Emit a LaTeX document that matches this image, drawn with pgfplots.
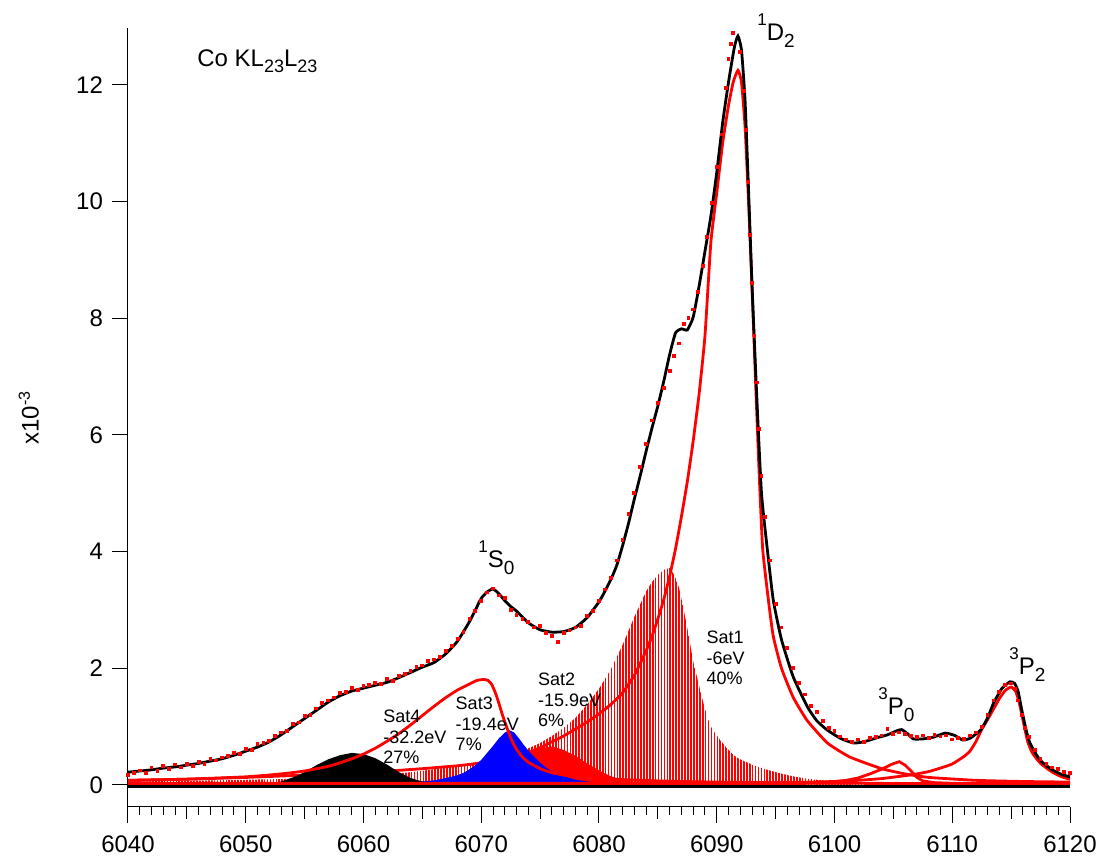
\documentclass[border=0pt]{standalone}
\usepackage{fontspec}
\setmainfont{Liberation Sans}
\usepackage{pgfplots}
\pgfplotsset{compat=1.18}
\usetikzlibrary{patterns.meta}
\newcommand{\psup}[1]{\raisebox{7.5pt}{\fontsize{8.5}{10}\selectfont #1}}
\newcommand{\psub}[1]{\raisebox{-3.5pt}{\fontsize{9.5}{10}\selectfont #1}}
\newcommand{\lsub}[1]{\raisebox{-3pt}{\fontsize{9}{10}\selectfont #1}}
\begin{document}
\begin{tikzpicture}
\path[use as bounding box] (-64pt,-27pt) rectangle (486pt,403.5pt);
\begin{axis}[
 at={(0pt,0pt)}, anchor=south west,
 scale only axis, width=471pt, height=389.5pt,
 xmin=6040, xmax=6120, ymin=-0.377, ymax=12.977,
 axis x line*=bottom, axis y line*=left,
 axis line style={line width=0.5pt, black},
 xtick={6040,6050,...,6120}, ytick={0,2,...,12},
 minor x tick num=9, minor y tick num=0,
 tick align=outside, major tick length=8pt, minor tick length=4pt,
 every tick/.style={black, line width=0.5pt},
 extra x ticks={6045,6055,...,6115}, extra x tick labels={},
 extra x tick style={major tick length=6pt},
 xticklabel style={yshift=-3pt}, yticklabel style={xshift=-1pt},
 tick label style={font=\fontsize{12}{14}\selectfont},
 /pgf/number format/assume math mode=true,
 /pgf/number format/1000 sep={},
 ylabel={x10\textsuperscript{-3}},
 ylabel style={at={(axis description cs:-0.1054,0.5)}, anchor=center, font=\fontsize{12}{14}\selectfont},
 clip=false,
]
% Sat1 (hatched)
\addplot[draw=none, pattern={Lines[angle=90,distance=1.47pt,line width=0.85pt]}, pattern color=red] coordinates {
(6040,0.06) (6045,0.07) (6050,0.09) (6055,0.11) (6058,0.13) (6060,0.15) (6062,0.18) (6064,0.22) (6066,0.27) (6068,0.33) (6070,0.4) (6072,0.5) (6073,0.56) (6074,0.63) (6075,0.72) (6076,0.84) (6077,0.98) (6078,1.15) (6079,1.38) (6080,1.65) (6081,1.98) (6082,2.4) (6083,2.88) (6084,3.32) (6084.5,3.48) (6085,3.6) (6085.5,3.69) (6086,3.72) (6086.4,3.6) (6086.8,3.38) (6087.2,3.0) (6087.6,2.58) (6088,2.12) (6088.5,1.7) (6089,1.3) (6089.5,1.0) (6090,0.85) (6090.5,0.72) (6091,0.6) (6091.5,0.5) (6092,0.44) (6093,0.35) (6094,0.28) (6095,0.22) (6096,0.17) (6097,0.13) (6098,0.1) (6100,0.06) (6102,0.04) (6105,0.03) (6110,0.02)
} \closedcycle;
% Sat2
\addplot[draw=none, fill=red] coordinates {
(6064,0) (6066,0.03) (6068,0.07) (6070,0.16) (6071,0.24) (6072,0.34) (6073,0.45) (6074,0.56) (6075,0.63) (6076,0.66) (6077,0.6) (6078,0.5) (6079,0.37) (6080,0.25) (6081,0.15) (6082,0.09) (6083,0.05) (6084,0.03) (6086,0.01) (6088,0)
} \closedcycle;
% 1D2
\addplot[red, line width=1.4pt, smooth, tension=0.3] coordinates {
(6040,0.08) (6045,0.1) (6050,0.13) (6055,0.17) (6060,0.21) (6065,0.28) (6068,0.33) (6070,0.38) (6072,0.45) (6074,0.56) (6075,0.64) (6076,0.74) (6077,0.84) (6078,0.96) (6079,1.08) (6080,1.22) (6081,1.38) (6082,1.58) (6083,1.88) (6084,2.3) (6084.5,2.55) (6085,2.85) (6085.5,3.18) (6086,3.58) (6086.5,4.05) (6087,4.6) (6087.5,5.2) (6088,5.9) (6088.5,6.7) (6089,7.7) (6089.5,9.3) (6090,10.15) (6090.5,11.0) (6091,11.65) (6091.4,12.05) (6091.8,12.25) (6092.1,12.05) (6092.4,11.3) (6092.7,10.0) (6093,8.5) (6093.3,6.9) (6093.6,5.35) (6093.9,4.05) (6094.4,3.15) (6094.8,2.55) (6095.5,2.0) (6096.5,1.5) (6097.7,1.1) (6099.4,0.72) (6101.3,0.48) (6104,0.28) (6106,0.19) (6108,0.13) (6112,0.08) (6116,0.06) (6120,0.05)
};
% Sat3
\addplot[draw=none, fill=blue] coordinates {
(6055,0) (6060,0.01) (6063,0.03) (6065,0.06) (6066,0.08) (6067,0.12) (6068,0.17) (6068.5,0.21) (6069,0.27) (6069.5,0.34) (6070,0.43) (6070.5,0.55) (6071,0.67) (6071.5,0.8) (6072,0.9) (6072.4,0.94) (6072.8,0.9) (6073.2,0.8) (6073.6,0.69) (6074,0.59) (6074.5,0.48) (6075,0.38) (6075.5,0.3) (6076,0.23) (6077,0.15) (6078,0.09) (6079,0.06) (6080,0.04) (6082,0.02) (6085,0.01) (6090,0)
} \closedcycle;
% Sat4
\addplot[draw=none, fill=black] coordinates {
(6048,0) (6050,0.01) (6052,0.03) (6053,0.06) (6054,0.13) (6055,0.22) (6056,0.34) (6057,0.44) (6058,0.51) (6059,0.55) (6060,0.53) (6061,0.46) (6062,0.35) (6063,0.22) (6064,0.12) (6065,0.06) (6066,0.03) (6068,0.01) (6070,0)
} \closedcycle;
% 1S0
\addplot[red, line width=1.4pt, smooth, tension=0.3] coordinates {
(6040,0.08) (6045,0.1) (6050,0.14) (6053,0.19) (6055,0.24) (6057,0.32) (6058,0.38) (6059,0.45) (6060,0.53) (6061,0.63) (6062,0.75) (6063,0.88) (6064,1.03) (6065,1.19) (6066,1.35) (6067,1.5) (6068,1.63) (6069,1.73) (6069.6,1.79) (6070.2,1.81) (6070.6,1.79) (6070.9,1.72) (6071.2,1.58) (6071.5,1.4) (6071.8,1.2) (6072.2,0.97) (6072.6,0.76) (6073,0.61) (6073.5,0.48) (6074,0.39) (6075,0.28) (6076,0.21) (6077,0.17) (6078,0.14) (6080,0.11) (6085,0.07) (6090,0.05) (6100,0.03) (6120,0.02)
};
% 3P0
\addplot[red, line width=1.4pt] coordinates {
(6040,0.02) (6095,0.02) (6098,0.03) (6100,0.06) (6101,0.08) (6102,0.12) (6103,0.19) (6104,0.27) (6104.8,0.35) (6105.5,0.40) (6106,0.34) (6106.5,0.24) (6107,0.13) (6107.5,0.07) (6108.5,0.04) (6110,0.03) (6120,0.02)
};
% 3P2
\addplot[red, line width=1.4pt, smooth, tension=0.3] coordinates {
(6040,0.03) (6080,0.03) (6095,0.04) (6100,0.06) (6102,0.08) (6104,0.11) (6106,0.16) (6107,0.19) (6108,0.23) (6109,0.29) (6110,0.36) (6111,0.49) (6111.5,0.58) (6112,0.74) (6112.5,0.95) (6113,1.12) (6113.5,1.3) (6114,1.48) (6114.5,1.62) (6115,1.68) (6115.4,1.6) (6115.7,1.4) (6116,1.12) (6116.4,0.75) (6116.8,0.55) (6117.5,0.37) (6118.5,0.22) (6119.3,0.14) (6120,0.1)
};
% baseline
\addplot[black, line width=1.5pt] coordinates {(6040,-0.02) (6120,-0.02)};
% total fit
\addplot[black, line width=1.4pt, smooth, tension=0.3] coordinates {
(6040,0.22) (6041,0.24) (6042,0.26) (6043,0.29) (6044,0.31) (6045,0.34) (6046,0.37) (6047,0.41) (6048,0.45) (6049,0.51) (6050,0.58) (6051,0.65) (6052,0.74) (6053,0.86) (6054,1.0) (6055,1.14) (6056,1.28) (6057,1.42) (6058,1.53) (6059,1.61) (6060,1.66) (6061,1.71) (6062,1.76) (6063,1.84) (6064,1.93) (6065,2.02) (6066,2.1) (6067,2.25) (6068,2.47) (6069,2.8) (6069.5,3.0) (6070,3.2) (6070.5,3.31) (6071,3.36) (6071.5,3.28) (6072,3.16) (6072.5,3.06) (6073,2.98) (6074,2.78) (6075,2.66) (6076,2.62) (6077,2.63) (6078,2.7) (6079,2.87) (6080,3.14) (6080.5,3.32) (6081,3.52) (6081.5,3.76) (6082,4.1) (6082.5,4.48) (6083,4.9) (6083.5,5.3) (6084,5.72) (6084.5,6.12) (6085,6.5) (6085.5,6.92) (6086,7.38) (6086.5,7.75) (6087,7.82) (6087.5,7.8) (6088,8.02) (6088.5,8.55) (6089,9.15) (6089.5,9.75) (6090,10.5) (6090.5,11.35) (6091,12.05) (6091.5,12.65) (6091.8,12.84) (6092.1,12.6) (6092.4,11.75) (6092.7,10.2) (6093,8.55) (6093.4,6.65) (6093.8,5.0) (6094.3,4.03) (6094.8,3.17) (6095.5,2.49) (6096.5,1.85) (6097.7,1.34) (6098.5,1.1) (6099.4,0.94) (6100.5,0.8) (6101.6,0.72) (6102.5,0.74) (6103.6,0.81) (6104.5,0.86) (6105.3,0.93) (6105.7,0.95) (6106.2,0.88) (6106.7,0.79) (6107.5,0.79) (6108.4,0.82) (6109.4,0.89) (6110.2,0.85) (6110.9,0.77) (6111.5,0.8) (6112.4,0.94) (6113,1.15) (6113.5,1.4) (6114.2,1.65) (6114.9,1.77) (6115.3,1.74) (6115.6,1.6) (6115.9,1.29) (6116.3,0.92) (6116.6,0.72) (6117.2,0.5) (6117.7,0.38) (6118.5,0.26) (6119.3,0.18) (6120,0.14)
};
% data points
\addplot[only marks, mark=square*, mark size=0.7pt, red, mark options={line width=0pt}] coordinates {
(6040.0,0.17) (6040.5,0.2) (6041.0,0.25) (6041.5,0.21) (6042.0,0.3) (6042.5,0.24) (6043.0,0.33) (6043.5,0.27) (6044.0,0.35) (6044.5,0.3) (6045.0,0.36) (6045.5,0.32) (6046.0,0.4) (6046.5,0.36) (6047.0,0.44) (6047.5,0.42) (6048.0,0.47) (6048.5,0.5) (6049.0,0.55) (6049.5,0.53) (6050.0,0.62) (6050.5,0.6) (6051.0,0.7) (6051.5,0.72) (6052.0,0.76) (6052.5,0.84) (6053.0,0.9) (6053.5,0.93) (6054.0,1.04) (6054.5,1.07) (6055.0,1.18) (6055.5,1.2) (6056.0,1.31) (6056.5,1.4) (6057.0,1.45) (6057.5,1.5) (6058.0,1.58) (6058.5,1.6) (6059.0,1.66) (6059.5,1.63) (6060.0,1.7) (6060.5,1.72) (6061.0,1.75) (6061.5,1.73) (6062.0,1.82) (6062.5,1.78) (6063.0,1.87) (6063.5,1.9) (6064.0,1.95) (6064.5,2.02) (6065.0,2.05) (6065.5,2.13) (6066.0,2.15) (6066.5,2.2) (6067.0,2.3) (6067.5,2.38) (6068.0,2.5) (6068.5,2.62) (6069.0,2.85) (6069.5,2.98) (6070.0,3.15) (6070.5,3.3) (6071.0,3.37) (6071.5,3.25) (6072.0,3.2) (6072.5,3.0) (6073.0,2.92) (6073.5,2.85) (6074.0,2.8) (6074.5,2.7) (6075.0,2.72) (6075.5,2.6) (6076.0,2.55) (6076.5,2.45) (6077.0,2.6) (6077.5,2.65) (6078.0,2.7) (6078.5,2.72) (6079.0,2.9) (6079.5,2.98) (6080.0,3.15) (6080.5,3.35) (6081.0,3.55) (6081.5,3.85) (6082.0,4.2) (6082.5,4.65) (6083.0,5.0) (6083.5,5.45) (6084.0,5.85) (6084.5,6.25) (6085.0,6.55) (6085.5,6.8) (6086.0,7.1) (6086.4,7.35) (6086.8,7.57) (6087.2,7.9) (6087.6,8.0) (6088.0,8.15) (6088.4,8.45) (6088.8,8.9) (6089.2,9.4) (6089.6,9.98) (6090.0,10.6) (6090.4,11.15) (6090.8,11.95) (6091.0,12.45) (6091.2,12.7) (6091.4,12.89) (6092.0,12.57) (6092.3,11.9) (6092.5,11.23) (6092.7,10.34) (6092.85,9.43) (6093.0,8.6) (6093.2,7.7) (6093.4,6.9) (6093.6,6.1) (6093.8,5.3) (6094.1,4.6) (6094.5,3.85) (6095.0,3.1) (6095.5,2.7) (6096.0,2.35) (6096.5,2.0) (6097.0,1.75) (6097.5,1.55) (6098.0,1.35) (6098.5,1.25) (6099.0,1.1) (6099.5,0.98) (6100.0,0.92) (6100.5,0.83) (6101.0,0.78) (6101.5,0.74) (6102.0,0.78) (6102.5,0.74) (6103.0,0.8) (6103.5,0.82) (6104.0,0.85) (6104.5,0.96) (6105.0,0.88) (6105.5,0.9) (6106.0,0.87) (6106.5,0.84) (6107.0,0.82) (6107.5,0.85) (6108.0,0.8) (6108.5,0.86) (6109.0,0.83) (6109.5,0.85) (6110.0,0.78) (6110.5,0.8) (6111.0,0.79) (6111.5,0.85) (6112.0,0.9) (6112.5,1.0) (6113.0,1.2) (6113.5,1.45) (6114.0,1.6) (6114.5,1.72) (6115.0,1.74) (6115.3,1.65) (6115.6,1.45) (6115.9,1.2) (6116.2,0.98) (6116.5,0.82) (6117.0,0.6) (6117.5,0.45) (6118.0,0.36) (6118.5,0.3) (6119.0,0.27) (6119.5,0.22) (6120.0,0.2)
};
% annotations
\node[anchor=base west, inner sep=0pt, font=\fontsize{12}{14}\selectfont] at (axis cs:6045.86,12.31) {Co KL\lsub{23}L\lsub{23}};
\node[anchor=base west, inner sep=0pt, font=\fontsize{12}{14}\selectfont] at (axis cs:6093.42,12.77) {\psup{1}D\psub{2}};
\node[anchor=base west, inner sep=0pt, font=\fontsize{12}{14}\selectfont] at (axis cs:6069.72,3.72) {\psup{1}S\psub{0}};
\node[anchor=base west, inner sep=0pt, font=\fontsize{12}{14}\selectfont] at (axis cs:6103.7,1.2) {\psup{3}P\psub{0}};
\node[anchor=base west, inner sep=0pt, font=\fontsize{12}{14}\selectfont] at (axis cs:6114.82,1.886) {\psup{3}P\psub{2}};
\node[anchor=north west, inner sep=0pt, align=left, font=\fontsize{9}{10.25}\selectfont] at (axis cs:6089.1,2.64) {Sat1\\-6eV\\40\%};
\node[anchor=north west, inner sep=0pt, align=left, font=\fontsize{9}{10.25}\selectfont] at (axis cs:6074.8,1.92) {Sat2\\-15.9eV\\6\%};
\node[anchor=north west, inner sep=0pt, align=left, font=\fontsize{9}{10.25}\selectfont] at (axis cs:6067.8,1.51) {Sat3\\-19.4eV\\7\%};
\node[anchor=north west, inner sep=0pt, align=left, font=\fontsize{9}{10.25}\selectfont] at (axis cs:6061.66,1.29) {Sat4\\-32.2eV\\27\%};
\end{axis}
\end{tikzpicture}
\end{document}
